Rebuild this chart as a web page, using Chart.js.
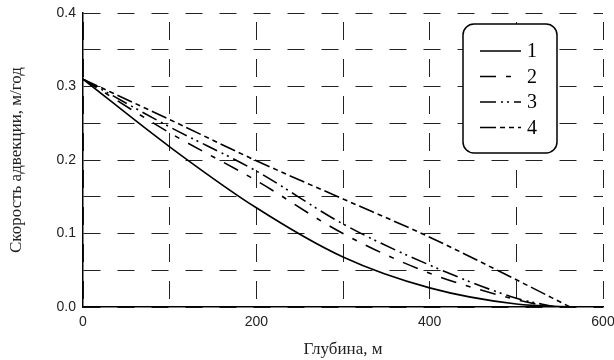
<!DOCTYPE html>
<html>
<head>
<meta charset="utf-8">
<script src="https://cdn.jsdelivr.net/npm/chart.js@4"></script>
<style>
  html, body { margin: 0; padding: 0; background: #fff; }
  #wrap { width: 614px; height: 360px; }
</style>
</head>
<body>
<div id="wrap"><canvas id="chart" width="614" height="360"></canvas></div>
<script>
const seriesLabels = ["1", "2", "3", "4"];

// depth (m) and advection speed (m/yr) for each curve
const depth1 = [0, 100, 200, 300, 400, 500, 565];
const speed1 = [0.31, 0.218, 0.135, 0.068, 0.026, 0.004, 0];

const depth2 = [0, 100, 200, 300, 400, 500, 540];
const speed2 = [0.31, 0.237, 0.172, 0.100, 0.046, 0.010, 0];

const depth3 = [0, 100, 200, 300, 400, 500, 545];
const speed3 = [0.31, 0.245, 0.185, 0.113, 0.057, 0.012, 0];

const depth4 = [0, 100, 200, 300, 400, 500, 562];
const speed4 = [0.31, 0.255, 0.199, 0.147, 0.095, 0.037, 0];

const xTickLabels = ["0", "200", "400", "600"];
const yTickLabels = ["0.0", "0.1", "0.2", "0.3", "0.4"];

const dashes = [[], [16, 10, 5, 10], [16, 5, 2, 4, 2, 5], [16, 4, 5, 4, 5, 4]];

function toPoints(xs, ys) {
  return xs.map((x, i) => ({ x: x, y: ys[i] }));
}

const allSeries = [
  toPoints(depth1, speed1),
  toPoints(depth2, speed2),
  toPoints(depth3, speed3),
  toPoints(depth4, speed4)
];

const datasets = allSeries.map((pts, i) => ({
  label: seriesLabels[i],
  data: pts,
  borderColor: '#000',
  borderWidth: 1.6,
  borderDash: dashes[i],
  pointRadius: 0,
  fill: false,
  cubicInterpolationMode: 'monotone'
}));

// boxed legend in the upper right corner
const boxLegend = {
  id: 'boxLegend',
  afterDraw(chart) {
    const ctx = chart.ctx;
    const area = chart.chartArea;
    const left = area.right - 140, top = area.top + 11;
    const w = 94, h = 129;
    ctx.save();
    ctx.beginPath();
    ctx.roundRect(left, top, w, h, 11);
    ctx.fillStyle = '#fff';
    ctx.fill();
    ctx.lineWidth = 1.5;
    ctx.strokeStyle = '#000';
    ctx.stroke();
    ctx.font = '20px "Liberation Serif", serif';
    ctx.fillStyle = '#000';
    ctx.textBaseline = 'middle';
    chart.data.datasets.forEach((ds, i) => {
      const y = top + 27 + i * 25.5;
      ctx.beginPath();
      ctx.setLineDash(ds.borderDash);
      ctx.lineWidth = 1.6;
      ctx.moveTo(left + 17, y);
      ctx.lineTo(left + 58, y);
      ctx.stroke();
      ctx.setLineDash([]);
      ctx.fillText(ds.label, left + 64, y + 1);
    });
    ctx.restore();
  }
};

const tickFont = { family: '"Liberation Sans", Arial, sans-serif', size: 14 };
const titleFont = { family: '"Liberation Serif", serif', size: 17 };

new Chart(document.getElementById('chart'), {
  type: 'line',
  data: { datasets: datasets },
  options: {
    responsive: false,
    animation: false,
    layout: { padding: { top: 13, right: 11, left: 0, bottom: 0 } },
    plugins: { legend: { display: false }, tooltip: { enabled: false } },
    scales: {
      x: {
        type: 'linear',
        min: 0, max: 600,
        afterFit(scale) {
          scale.height = 53;
          scale.paddingLeft = 0;
          scale.paddingRight = 0;
        },
        ticks: {
          stepSize: 100,
          padding: 7,
          color: '#222',
          font: tickFont,
          maxRotation: 0,
          autoSkip: false,
          callback: (v) => xTickLabels.includes(String(v)) ? String(v) : ''
        },
        grid: { color: '#222', lineWidth: 1, drawTicks: false },
        border: { display: true, color: '#000', width: 1.5, dash: [18, 19], dashOffset: 28 },
        title: {
          display: true,
          text: 'Глубина, м',
          color: '#222',
          font: titleFont,
          padding: { top: 2, bottom: 0 }
        }
      },
      y: {
        min: 0, max: 0.4,
        afterFit(scale) {
          scale.width = 83;
          scale.paddingTop = 0;
          scale.paddingBottom = 0;
        },
        ticks: {
          stepSize: 0.05,
          padding: 7,
          color: '#222',
          font: tickFont,
          autoSkip: false,
          callback: (v) => {
            const s = Number(v).toFixed(2);
            const t = Number(v).toFixed(1);
            return (s.endsWith('0') && yTickLabels.includes(t)) ? t : '';
          }
        },
        grid: { color: '#222', lineWidth: 1, drawTicks: false },
        border: { display: true, color: '#000', width: 1.5, dash: [17, 17], dashOffset: 0 },
        title: {
          display: true,
          text: 'Скорость адвекции, м/год',
          color: '#222',
          font: titleFont,
          padding: { top: 6, bottom: 0 }
        }
      }
    }
  },
  plugins: [boxLegend]
});
</script>
</body>
</html>
